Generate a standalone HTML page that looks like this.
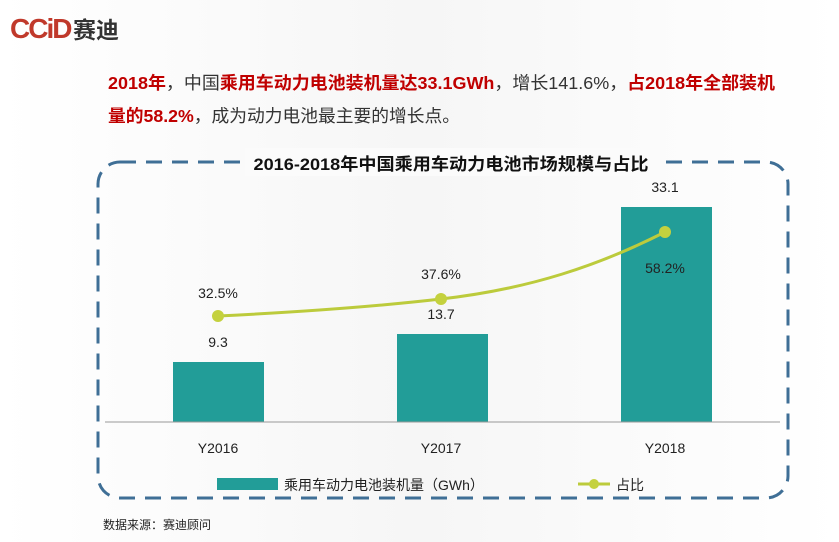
<!DOCTYPE html>
<html><head><meta charset="utf-8"><style>
body{margin:0;width:839px;height:542px;overflow:hidden;background:#fff;font-family:"Liberation Sans","Noto Sans CJK SC",sans-serif;}
</style></head><body>
<svg width="839" height="542" xmlns="http://www.w3.org/2000/svg" style="position:absolute;left:0;top:0">
<defs><linearGradient id="g" x1="0" x2="1"><stop offset="0" stop-color="#fff"/><stop offset="0.5" stop-color="#f6f6f6"/><stop offset="1" stop-color="#fff"/></linearGradient></defs>
<rect width="839" height="542" fill="url(#g)"/>
<text x="10" y="38" font-size="28" font-weight="bold" fill="#c0392b" font-family="Liberation Sans,sans-serif" letter-spacing="-2">CCiD</text>
<text x="73" y="38" font-size="23" font-weight="bold" fill="#333" font-family="Noto Sans CJK SC,sans-serif">赛迪</text>
<text x="108" y="89" font-size="17.5" fill="#333" textLength="667" lengthAdjust="spacingAndGlyphs" font-family="Liberation Sans,Noto Sans CJK SC,sans-serif"><tspan fill="#c00000" font-weight="bold">2018年</tspan>，中国<tspan fill="#c00000" font-weight="bold">乘用车动力电池装机量达33.1GWh</tspan>，增长141.6%，<tspan fill="#c00000" font-weight="bold">占2018年全部装机</tspan></text>
<text x="108" y="122" font-size="17.5" fill="#333" textLength="352" lengthAdjust="spacingAndGlyphs" font-family="Liberation Sans,Noto Sans CJK SC,sans-serif"><tspan fill="#c00000" font-weight="bold">量的58.2%</tspan>，成为动力电池最主要的增长点。</text>
<rect x="98" y="162" width="690" height="336" rx="22" fill="none" stroke="#3f6f96" stroke-width="3" stroke-dasharray="16,10"/>
<rect x="245" y="148" width="420" height="28" fill="#fbfbfb"/>
<text x="451" y="170" text-anchor="middle" font-size="17" font-weight="bold" fill="#111" textLength="395" lengthAdjust="spacingAndGlyphs" font-family="Liberation Sans,Noto Sans CJK SC,sans-serif">2016-2018年中国乘用车动力电池市场规模与占比</text>
<g fill="#229d98">
<rect x="173" y="362" width="91" height="60"/>
<rect x="397" y="334" width="91" height="88"/>
<rect x="621" y="207" width="91" height="215"/>
</g>
<line x1="105" y1="422" x2="780" y2="422" stroke="#999" stroke-width="1"/>
<g font-size="14" fill="#222" text-anchor="middle">
<text x="218" y="347">9.3</text><text x="441" y="319">13.7</text><text x="665" y="192">33.1</text>
<text x="218" y="298">32.5%</text><text x="441" y="279">37.6%</text><text x="665" y="273">58.2%</text>
<text x="218" y="453">Y2016</text><text x="441" y="453">Y2017</text><text x="665" y="453">Y2018</text>
</g>
<path d="M218,316 C300,312 380,306 441,299 C530,289 600,265 665,232" fill="none" stroke="#bccb3c" stroke-width="3"/>
<g fill="#c4d13e"><circle cx="218" cy="316" r="6"/><circle cx="441" cy="299" r="6"/><circle cx="665" cy="232" r="6"/></g>
<rect x="217" y="478" width="61" height="12" fill="#229d98"/>
<text x="284" y="490" font-size="14" fill="#222" font-family="Liberation Sans,Noto Sans CJK SC,sans-serif">乘用车动力电池装机量（GWh）</text>
<line x1="578" y1="484" x2="610" y2="484" stroke="#bccb3c" stroke-width="3"/><circle cx="594" cy="484" r="5" fill="#c4d13e"/>
<text x="616" y="490" font-size="14" fill="#222" font-family="Noto Sans CJK SC,sans-serif">占比</text>
<text x="103" y="529" font-size="12" fill="#222" font-family="Noto Sans CJK SC,sans-serif">数据来源：赛迪顾问</text>
</svg>
</body></html>
